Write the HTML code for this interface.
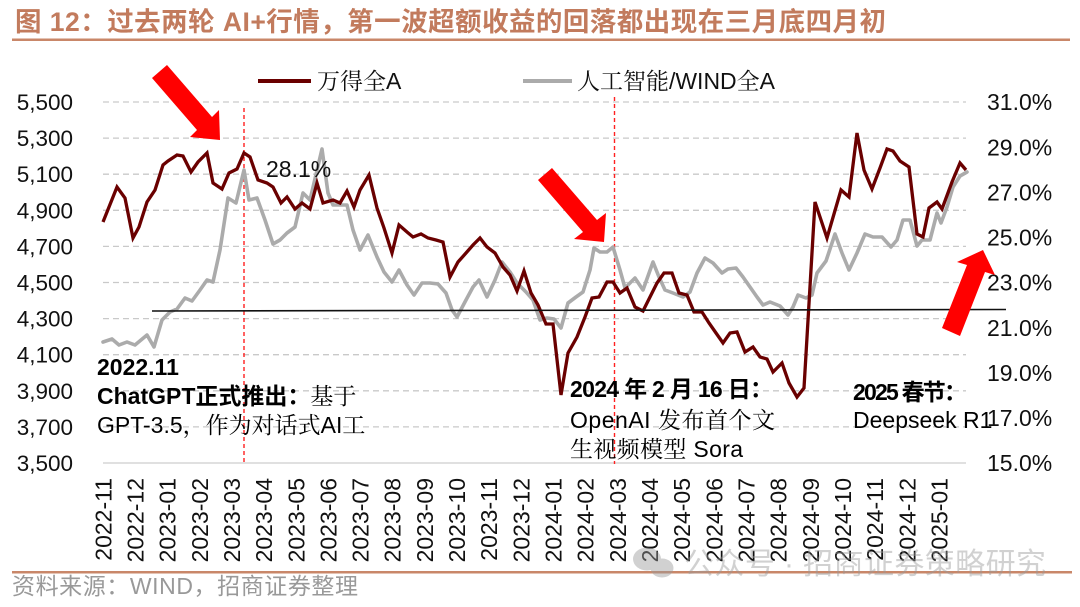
<!DOCTYPE html>
<html><head><meta charset="utf-8"><style>
html,body{margin:0;padding:0;background:#fff;}
svg{display:block;}
</style></head><body>
<svg width="1080" height="607" viewBox="0 0 1080 607" xmlns="http://www.w3.org/2000/svg" font-family="'Liberation Sans','Noto Serif CJK SC',serif">
<rect width="1080" height="607" fill="#fff"/>
<!-- title -->
<text x="15" y="31" font-size="26.5" font-weight="bold" fill="#c27b5d" textLength="871" lengthAdjust="spacing" font-family="'Liberation Sans','Noto Sans CJK SC',sans-serif">图 12：过去两轮 AI+行情，第一波超额收益的回落都出现在三月底四月初</text>
<rect x="12" y="38.5" width="1058" height="2.5" fill="#c98769"/>

<!-- gridlines -->
<g stroke="#c9c9c9" stroke-width="1.3" stroke-dasharray="6 4">
<line x1="103" y1="102" x2="966" y2="102"/>
<line x1="103" y1="138.1" x2="966" y2="138.1"/>
<line x1="103" y1="174.2" x2="966" y2="174.2"/>
<line x1="103" y1="210.3" x2="966" y2="210.3"/>
<line x1="103" y1="246.4" x2="966" y2="246.4"/>
<line x1="103" y1="282.5" x2="966" y2="282.5"/>
<line x1="103" y1="318.6" x2="966" y2="318.6"/>
<line x1="103" y1="354.7" x2="966" y2="354.7"/>
<line x1="103" y1="390.8" x2="966" y2="390.8"/>
<line x1="103" y1="426.9" x2="966" y2="426.9"/>
</g>
<line x1="103" y1="463" x2="966" y2="463" stroke="#d6d6d6" stroke-width="1.6"/>

<!-- left axis labels -->
<g font-size="22.5" fill="#111" text-anchor="end" font-family="'Liberation Sans',sans-serif">
<text x="73" y="110">5,500</text>
<text x="73" y="146.1">5,300</text>
<text x="73" y="182.2">5,100</text>
<text x="73" y="218.3">4,900</text>
<text x="73" y="254.4">4,700</text>
<text x="73" y="290.5">4,500</text>
<text x="73" y="326.6">4,300</text>
<text x="73" y="362.7">4,100</text>
<text x="73" y="398.8">3,900</text>
<text x="73" y="434.9">3,700</text>
<text x="73" y="471">3,500</text>
</g>
<!-- right axis labels -->
<g font-size="23" fill="#111" font-family="'Liberation Sans',sans-serif">
<text x="987" y="110.2">31.0%</text>
<text x="987" y="155.3">29.0%</text>
<text x="987" y="200.5">27.0%</text>
<text x="987" y="245.6">25.0%</text>
<text x="987" y="290.7">23.0%</text>
<text x="987" y="335.8">21.0%</text>
<text x="987" y="381">19.0%</text>
<text x="987" y="426.1">17.0%</text>
<text x="987" y="471.2">15.0%</text>
</g>

<!-- x labels -->
<g font-size="23" fill="#111" text-anchor="end" font-family="'Liberation Sans',sans-serif">
<text transform="translate(111.3,478) rotate(-90)">2022-11</text>
<text transform="translate(143.5,478) rotate(-90)">2022-12</text>
<text transform="translate(175.6,478) rotate(-90)">2023-01</text>
<text transform="translate(207.8,478) rotate(-90)">2023-02</text>
<text transform="translate(239.9,478) rotate(-90)">2023-03</text>
<text transform="translate(272.1,478) rotate(-90)">2023-04</text>
<text transform="translate(304.3,478) rotate(-90)">2023-05</text>
<text transform="translate(336.4,478) rotate(-90)">2023-06</text>
<text transform="translate(368.6,478) rotate(-90)">2023-07</text>
<text transform="translate(400.7,478) rotate(-90)">2023-08</text>
<text transform="translate(432.9,478) rotate(-90)">2023-09</text>
<text transform="translate(465.1,478) rotate(-90)">2023-10</text>
<text transform="translate(497.2,478) rotate(-90)">2023-11</text>
<text transform="translate(529.4,478) rotate(-90)">2023-12</text>
<text transform="translate(561.5,478) rotate(-90)">2024-01</text>
<text transform="translate(593.7,478) rotate(-90)">2024-02</text>
<text transform="translate(625.9,478) rotate(-90)">2024-03</text>
<text transform="translate(658,478) rotate(-90)">2024-04</text>
<text transform="translate(690.2,478) rotate(-90)">2024-05</text>
<text transform="translate(722.3,478) rotate(-90)">2024-06</text>
<text transform="translate(754.5,478) rotate(-90)">2024-07</text>
<text transform="translate(786.7,478) rotate(-90)">2024-08</text>
<text transform="translate(818.8,478) rotate(-90)">2024-09</text>
<text transform="translate(851,478) rotate(-90)">2024-10</text>
<text transform="translate(883.1,478) rotate(-90)">2024-11</text>
<text transform="translate(915.3,478) rotate(-90)">2024-12</text>
<text transform="translate(947.5,478) rotate(-90)">2025-01</text>
</g>

<!-- legend -->
<line x1="258" y1="81" x2="311" y2="81" stroke="#6a0000" stroke-width="4"/>
<text x="317" y="89" font-size="23" fill="#111">万得全A</text>
<line x1="523" y1="81" x2="572" y2="81" stroke="#ababab" stroke-width="4"/>
<text x="577" y="89" font-size="23" fill="#111" textLength="198" lengthAdjust="spacingAndGlyphs">人工智能/WIND全A</text>

<!-- red dashed verticals -->
<g stroke="#ff2020" stroke-width="1.4" stroke-dasharray="4 3">
<line x1="244" y1="108" x2="244" y2="464"/>
<line x1="614.5" y1="97" x2="614.5" y2="464"/>
</g>

<!-- gray series -->
<polyline fill="none" stroke="#ababab" stroke-width="3.6" stroke-linejoin="round" stroke-linecap="round" points="103,342 112,339 119,345 127,342 135,345 147,335 154,347 162,320 170,312 177,309 185,298 192,301 200,290 207,280 213,282 220,250 228,198 236,203 244,170 249,200 257,198 265,220 273,244 280,240 287,233 295,227 303,193 310,200 322,149 328,193 333,205 347,205 353,230 360,250 368,235 377,257 384,272 392,282 399,270 407,285 414,295 422,283 430,283 438,284 446,293 452,310 457,317 466,300 473,287 479,280 487,297 495,280 502,262 510,272 517,283 526,292 533,300 540,320 547,318 554,319 561,328 568,303 576,297 583,292 590,270 594,248 600,252 607,252 613,247 620,270 625,288 635,278 643,290 653,262 659,277 665,290 673,293 683,297 690,292 697,273 705,258 713,263 722,273 728,269 736,268 743,277 750,287 757,297 763,305 770,302 780,306 788,315 793,307 798,295 806,298 812,295 817,273 826,261 835,234 842,253 849,270 857,253 865,234 873,237 882,237 891,247 897,240 903,220 910,220 917,246 922,240 930,240 937,213 941,223 947,207 953,187 960,176 967,172"/>

<!-- dark red series -->
<polyline fill="none" stroke="#6a0000" stroke-width="3.3" stroke-linejoin="miter" stroke-linecap="butt" points="103,222 117,187 125,198 133,238 139,227 147,202 155,190 163,165 168,161 177,155 183,156 191,172 198,162 207,153 213,183 222,189 229,173 237,169 244,153 250,157 258,180 267,183 273,187 281,203 287,197 295,209 302,203 310,209 317,183 323,203 333,200 340,203 347,191 354,207 360,190 369,175 377,208 384,228 392,253 399,225 407,232 413,237 421,234 428,238 436,240 443,242 450,277 458,262 466,253 473,245 480,238 487,247 495,253 503,267 510,275 517,291 524,271 531,293 538,305 546,324 553,324 561,395 568,353 577,337 585,317 592,298 599,297 607,282 613,282 620,293 627,288 635,307 643,311 650,297 657,283 664,273 672,273 679,293 687,295 694,312 702,312 709,323 716,333 723,343 730,333 737,332 745,352 753,347 760,357 767,359 773,372 782,363 789,383 797,397 804,388 815,202 827,238 841,190 849,197 857,133 864,170 872,189 880,168 887,149 893,151 900,161 909,167 917,234 923,237 929,208 937,202 942,209 952,182 960,163 966,170"/>

<!-- black horizontal line -->
<line x1="152" y1="311" x2="1006" y2="309.5" stroke="#111" stroke-width="1.6"/>

<!-- arrows -->
<g fill="#ff0000">
<polygon points="152,78 167,65 212,117 219,110 220,140 190,137 197,130"/>
<polygon points="538,180 552,168 597,220 606,213 604,242 574,239 583,232"/>
<polygon points="942,328 960,336 985,272 995,275 983,250 957,262 967,265"/>
</g>

<!-- annotations -->
<text x="266" y="177" font-size="23" fill="#111">28.1%</text>

<text x="97" y="375" font-size="23" font-weight="bold" fill="#000" font-family="'Liberation Sans','Noto Sans CJK SC',sans-serif">2022.11</text>
<text x="97" y="404" font-size="23" fill="#000"><tspan font-weight="bold" font-family="'Liberation Sans','Noto Sans CJK SC',sans-serif">ChatGPT正式推出：</tspan>基于</text>
<text x="97" y="433" font-size="23" fill="#000">GPT-3.5，作为对话式AI工</text>

<text x="570" y="397" font-size="23" font-weight="bold" fill="#000" textLength="203" lengthAdjust="spacing" font-family="'Liberation Sans','Noto Sans CJK SC',sans-serif">2024 年 2 月 16 日：</text>
<text x="570" y="428" font-size="23" fill="#000" textLength="205" lengthAdjust="spacing">OpenAI 发布首个文</text>
<text x="570" y="457" font-size="23" fill="#000" textLength="173" lengthAdjust="spacing">生视频模型 Sora</text>

<text x="853" y="400" font-size="23" font-weight="bold" fill="#000" textLength="114" lengthAdjust="spacing" font-family="'Liberation Sans','Noto Sans CJK SC',sans-serif">2025 春节：</text>
<text x="853" y="428" font-size="23" fill="#000">Deepseek R1</text>

<!-- footer -->
<rect x="12" y="571" width="1060" height="2.5" fill="#c98769"/>
<text x="12" y="594" font-size="23" fill="#999" textLength="346" lengthAdjust="spacing" font-family="'Liberation Sans','Noto Sans CJK SC',sans-serif">资料来源：WIND，招商证券整理</text>

<!-- watermark -->
<g opacity="0.45">
<ellipse cx="647" cy="559" rx="14" ry="11.5" fill="#9a9a9a"/>
<ellipse cx="662" cy="568" rx="11.5" ry="9.5" fill="#9a9a9a"/>
<text x="684" y="574" font-size="30" fill="#9a9a9a" font-family="'Liberation Sans','Noto Sans CJK SC',sans-serif" textLength="362" lengthAdjust="spacing">公众号 · 招商证券策略研究</text>
</g>
</svg>
</body></html>
